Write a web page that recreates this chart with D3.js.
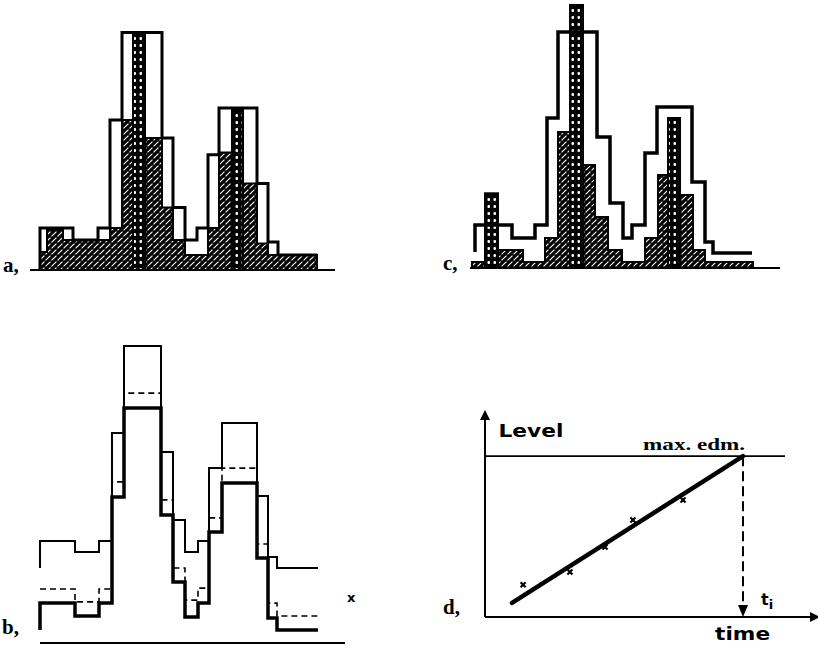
<!DOCTYPE html>
<html>
<head>
<meta charset="utf-8">
<script src="https://cdn.jsdelivr.net/npm/d3@7"></script>
<style>
  body { margin: 0; background: #fff; }
  text { fill: #000; }
</style>
</head>
<body>
<svg id="fig" width="818" height="648"></svg>
<script>

// panel a: fine histogram (hatched) and the shifted/coarse one (outline), counts per channel
var aEdges   = [0, 0.7, 2.3, 3.3, 5.8, 7, 8.2, 9.3, 10.5, 12.2, 13.3, 14.5, 15.7, 16.8, 17.9, 19.2, 20.3, 21.7, 22.8, 23.8, 27.7];
var aHatched = [7.5, 16.7, 12.5, 12.5, 12.5, 17.5, 62.5, 98, 55, 26, 12.5, 6.25, 6.25, 17.5, 49, 67, 36, 11, 6.25, 6.25];
var aOutline = [17.5, 17.5, 17.5, 12.5, 17.5, 62.5, 99, 99, 99, 55, 26, 12.5, 17.5, 48, 67.5, 67.5, 67.5, 36, 11.7, 6.25];
var aSpikes  = [7, 15];

// panel c
var cEdges   = [0, 1.3, 2.6, 5.1, 7.3, 8.6, 9.8, 11.1, 12.3, 13.6, 15, 17.3, 18.6, 19.6, 20.8, 22.1, 23.3, 28.1];
var cHatched = [2.5, 31, 7.5, 2.5, 12.5, 56.7, 109.6, 42.9, 21.3, 7.5, 2.5, 12.5, 38.8, 62.5, 30.4, 7.5, 2.5];
var cSpikes  = [1, 6, 13];
var cOutEdges = [0.3, 4, 6.3, 7.5, 8.6, 12.5, 13.8, 15.1, 16, 17.3, 18.5, 22, 23.3, 24.1, 28];
var cOutline  = [17.9, 12.5, 17.9, 62.5, 98.3, 54.6, 27.1, 12.5, 17.9, 47.9, 67.1, 35.8, 10.8, 6.25];

// panel b: three step curves (upper, dashed middle, lower)
var bEdges  = [0, 3.5, 5.9, 7.2, 8.4, 12.1, 13.3, 14.5, 15.8, 16.9, 18.2, 21.7, 22.8, 23.7, 27.8];
var bUpper  = [34, 30.3, 34, 70, 99, 63.7, 41, 30.3, 34, 58.3, 73.3, 49, 28.7, 25];
var bMiddle = [18, 13.7, 18, 53.7, 83.3, 47.7, 25, 14.3, 18.3, 41.7, 58.3, 33, 13.3, 9];
var bLower  = [13.3, 9, 13.3, 48.7, 78.3, 42.7, 20.3, 8.7, 13.3, 37, 53.3, 28.3, 8.3, 4.3];

// panel d: level against time
var dTimes   = [1.27, 2.83, 4.0, 4.93, 6.6];
var dLevels  = [1.6, 2.24, 3.48, 4.83, 5.82];
var dFitTime = [0.9, 8.6];
var dFitLevel = [0.7, 8];
var dMaxLevel = 8;
var dTi = 8.6;

var svg = d3.select("#fig");
var defs = svg.append("defs");

var hatch = defs.append("pattern").attr("id", "hatch")
  .attr("patternUnits", "userSpaceOnUse").attr("width", 6).attr("height", 6);
hatch.append("rect").attr("width", 6).attr("height", 6).attr("fill", "#000");
hatch.append("path").attr("d", "M0,6 L6,0 M-1,1 L1,-1 M5,7 L7,5")
  .attr("stroke", "#fff").attr("stroke-width", 1.1).attr("stroke-dasharray", "3.5,1.5");

var dots = defs.append("pattern").attr("id", "dots")
  .attr("patternUnits", "userSpaceOnUse").attr("width", 6).attr("height", 7);
dots.append("rect").attr("width", 6).attr("height", 7).attr("fill", "#000");
dots.append("rect").attr("x", 1.5).attr("y", 2).attr("width", 2.5).attr("height", 3).attr("rx", 1).attr("fill", "#fff");

defs.append("marker").attr("id", "arr")
  .attr("viewBox", "0 0 10 10").attr("refX", 8).attr("refY", 5)
  .attr("markerWidth", 5).attr("markerHeight", 5).attr("orient", "auto")
  .append("path").attr("d", "M0,0 L10,5 L0,10 Z").attr("fill", "#000");

function stepPoints(edges, vals, foot) {
  var pts = [];
  if (foot != null) pts.push([edges[0], foot]);
  vals.forEach(function(v, i) {
    pts.push([edges[i], v]);
    pts.push([edges[i + 1], v]);
  });
  return pts;
}

function histoPanel(g, x, y, edges, hatched, spikes, outEdges, outline, outFoot, outWidth) {
  var line = d3.line().x(function(d) { return x(d[0]); }).y(function(d) { return y(d[1]); });

  var area = stepPoints(edges, hatched, 0);
  area.push([edges[edges.length - 1], 0]);
  g.append("path").attr("d", line(area) + "Z")
    .attr("fill", "url(#hatch)").attr("stroke", "#000").attr("stroke-width", 2);

  spikes.forEach(function(i) {
    g.append("rect")
      .attr("x", x(edges[i])).attr("y", y(hatched[i]))
      .attr("width", x(edges[i + 1]) - x(edges[i]))
      .attr("height", y(0) - y(hatched[i]))
      .attr("fill", "url(#dots)").attr("stroke", "#000").attr("stroke-width", 2);
  });

  g.append("path").attr("d", line(stepPoints(outEdges, outline, outFoot)))
    .attr("fill", "none").attr("stroke", "#000").attr("stroke-width", outWidth)
    .attr("stroke-linejoin", "miter");
}

function label(txt, px, py) {
  svg.append("text").attr("x", px).attr("y", py).text(txt)
    .style("font-family", "Liberation Serif").style("font-weight", "bold").style("font-size", "21px");
}

// ---- a ----
var ax = d3.scaleLinear().domain([0, 30]).range([40, 340]);
var ay = d3.scaleLinear().domain([0, 100]).range([270, 30]);
var ga = svg.append("g");
histoPanel(ga, ax, ay, aEdges, aHatched, aSpikes, aEdges, aOutline, 0, 3);
ga.append("line").attr("x1", ax(-1)).attr("x2", ax(29.5)).attr("y1", ay(0)).attr("y2", ay(0))
  .attr("stroke", "#000").attr("stroke-width", 2);
label("a,", 3, 272);

// ---- c ----
var cx = d3.scaleLinear().domain([0, 30]).range([472, 772]);
var cy = d3.scaleLinear().domain([0, 110]).range([268, 4]);
var gc = svg.append("g");
histoPanel(gc, cx, cy, cEdges, cHatched, cSpikes, cOutEdges, cOutline, 6.7, 3.5);
gc.append("line").attr("x1", cx(-0.2)).attr("x2", cx(30.8)).attr("y1", cy(0)).attr("y2", cy(0))
  .attr("stroke", "#000").attr("stroke-width", 2);
label("c,", 443, 270);

// ---- b ----
var bx = d3.scaleLinear().domain([0, 30]).range([40, 340]);
var by = d3.scaleLinear().domain([0, 100]).range([643, 343]);
var bline = d3.line().x(function(d) { return bx(d[0]); }).y(function(d) { return by(d[1]); });
var gb = svg.append("g").attr("fill", "none").attr("stroke", "#000");
gb.append("path").attr("d", bline(stepPoints(bEdges, bUpper, 25))).attr("stroke-width", 2);
gb.append("path").attr("d", bline(stepPoints(bEdges, bMiddle, null)))
  .attr("stroke-width", 1.6).attr("stroke-dasharray", "6,4");
gb.append("path").attr("d", bline(stepPoints(bEdges, bLower, 4.3))).attr("stroke-width", 3.5);
gb.append("line").attr("x1", bx(0)).attr("x2", bx(30.5)).attr("y1", by(0)).attr("y2", by(0))
  .attr("stroke-width", 2);
label("b,", 2, 634);
svg.append("text").attr("x", 347).attr("y", 602).text("x")
  .style("font-family", "DejaVu Sans").style("font-weight", "bold").style("font-size", "13px");

// ---- d ----
var dx = d3.scaleLinear().domain([0, 11]).range([485, 815]);
var dy = d3.scaleLinear().domain([0, 10]).range([617, 416]);
var gd = svg.append("g").attr("stroke", "#000");

gd.append("line").attr("x1", dx(0)).attr("x2", dx(0)).attr("y1", dy(0)).attr("y2", dy(10.2))
  .attr("stroke-width", 2).attr("marker-end", "url(#arr)");
gd.append("line").attr("x1", dx(0)).attr("x2", dx(11.1)).attr("y1", dy(0)).attr("y2", dy(0))
  .attr("stroke-width", 2).attr("marker-end", "url(#arr)");
gd.append("line").attr("x1", dx(0)).attr("x2", dx(10)).attr("y1", dy(dMaxLevel)).attr("y2", dy(dMaxLevel))
  .attr("stroke-width", 1.8);

// dashed drop from the crossing to the time axis
gd.append("line").attr("x1", dx(dTi)).attr("x2", dx(dTi)).attr("y1", dy(dMaxLevel)).attr("y2", dy(0.5))
  .attr("stroke-width", 2).attr("stroke-dasharray", "10,5");
gd.append("path")
  .attr("d", "M" + (dx(dTi) - 5) + "," + dy(0.6) + "L" + (dx(dTi) + 5) + "," + dy(0.6) + "L" + dx(dTi) + "," + dy(0) + "Z")
  .attr("fill", "#000").attr("stroke", "none");

gd.append("line")
  .attr("x1", dx(dFitTime[0])).attr("y1", dy(dFitLevel[0]))
  .attr("x2", dx(dFitTime[1])).attr("y2", dy(dFitLevel[1]))
  .attr("stroke-width", 4.5).attr("stroke-linecap", "round");

dTimes.forEach(function(t, i) {
  var px = dx(t), py = dy(dLevels[i]);
  gd.append("path")
    .attr("d", "M" + (px - 2.5) + "," + (py - 2.5) + "L" + (px + 2.5) + "," + (py + 2.5) +
               "M" + (px + 2.5) + "," + (py - 2.5) + "L" + (px - 2.5) + "," + (py + 2.5))
    .attr("stroke-width", 2.2);
});

svg.append("text").attr("x", dx(0.45)).attr("y", dy(8.95)).text("Level")
  .attr("textLength", 65).attr("lengthAdjust", "spacingAndGlyphs")
  .style("font-family", "DejaVu Sans").style("font-weight", "bold").style("font-size", "17px");
svg.append("text").attr("x", dx(5.27)).attr("y", dy(8.3)).text("max. edm.")
  .attr("textLength", 102).attr("lengthAdjust", "spacingAndGlyphs")
  .style("font-family", "Liberation Serif").style("font-weight", "bold").style("font-size", "16px");
svg.append("text").attr("x", dx(7.67)).attr("y", dy(-1.15)).text("time")
  .attr("textLength", 55).attr("lengthAdjust", "spacingAndGlyphs")
  .style("font-family", "DejaVu Sans").style("font-weight", "bold").style("font-size", "17px");
var ti = svg.append("text").attr("x", dx(9.2)).attr("y", dy(0.6))
  .style("font-family", "DejaVu Sans").style("font-weight", "bold").style("font-size", "16px");
ti.append("tspan").text("t");
ti.append("tspan").attr("dy", 4).style("font-size", "13px").text("i");
label("d,", 443, 614);

</script>
</body>
</html>
